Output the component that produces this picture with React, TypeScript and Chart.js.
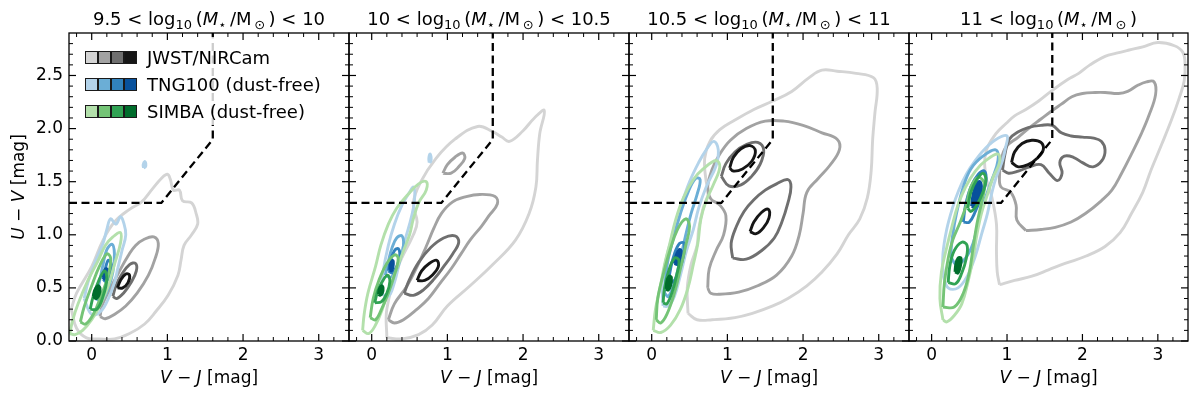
import React, { useEffect, useRef } from "react";
import { Chart, registerables } from "chart.js";

Chart.register(...registerables);

type Pt = [number, number];

// ---------- axes / layout ----------
const panelLeft = [69, 349, 629, 909];
const panelRight = [349, 629, 909, 1188];
const plotTop = 33;
const plotBottom = 341;

const xMin = -0.3;
const xMax = 3.4;
const yMin = 0;
const yMax = 2.9;
const xMajor = [0, 1, 2, 3];
const xMinor = [-0.2, 0.2, 0.4, 0.6, 0.8, 1.2, 1.4, 1.6, 1.8, 2.2, 2.4, 2.6, 2.8, 3.2];
const yMajor = [0, 0.5, 1.0, 1.5, 2.0, 2.5];
const yMinor = [0.1, 0.2, 0.3, 0.4, 0.6, 0.7, 0.8, 0.9, 1.1, 1.2, 1.3, 1.4, 1.6, 1.7, 1.8, 1.9, 2.1, 2.2, 2.3, 2.4, 2.6, 2.7, 2.8];

const titleLow = ["9.5", "10", "10.5", "11"];
const titleHigh = ["10", "10.5", "11", ""];

// UVJ quiescent selection boundary
const uvjX = [-0.3, 0.92, 1.6, 1.6];
const uvjY = [1.3, 1.3, 1.898, 2.9];

const greyColors = ["#d4d4d4", "#a2a2a2", "#6f6f6f", "#161616"];
const blueColors = ["#b3d3ea", "#6baed6", "#3182bd", "#08519c"];
const greenColors = ["#b3e0ab", "#74c476", "#31a354", "#006d2c"];
const legendLabels = ["JWST/NIRCam", "TNG100 (dust-free)", "SIMBA (dust-free)"];

// ---------- Panel 1: 9.5 < log M < 10 ----------
const p1Jwst: Pt[][] = [
  [[-0.27, 0.3], [-0.2, 0.45], [0.0, 0.7], [0.15, 0.95], [0.3, 1.12], [0.5, 1.24], [0.66, 1.31], [0.8, 1.43], [0.92, 1.53], [1.0, 1.57], [1.04, 1.52], [1.08, 1.42], [1.16, 1.42], [1.2, 1.32], [1.32, 1.3], [1.38, 1.2], [1.4, 1.1], [1.32, 1.0], [1.22, 0.9], [1.18, 0.76], [1.14, 0.62], [1.01, 0.43], [0.85, 0.28], [0.7, 0.16], [0.5, 0.07], [0.3, 0.02], [0.1, 0.02], [-0.07, 0.03], [-0.2, 0.12]],
  [[0.11, 0.23], [0.14, 0.34], [0.25, 0.5], [0.36, 0.65], [0.48, 0.8], [0.58, 0.9], [0.7, 0.96], [0.82, 0.98], [0.88, 0.92], [0.84, 0.78], [0.75, 0.62], [0.6, 0.45], [0.45, 0.33], [0.3, 0.25], [0.18, 0.21]],
  [[0.28, 0.42], [0.32, 0.52], [0.4, 0.63], [0.5, 0.72], [0.58, 0.73], [0.59, 0.66], [0.52, 0.55], [0.42, 0.45], [0.33, 0.4]],
  [[0.34, 0.5], [0.38, 0.57], [0.45, 0.63], [0.5, 0.62], [0.48, 0.55], [0.41, 0.5]],
];
const p1JwstLv = [0, 1, 2, 3];
const p1Tng: Pt[][] = [
  [[-0.1, 0.4], [-0.05, 0.55], [0.05, 0.75], [0.15, 0.92], [0.2, 1.05], [0.25, 1.15], [0.32, 1.1], [0.38, 1.17], [0.42, 1.12], [0.45, 1.0], [0.4, 0.85], [0.35, 0.7], [0.3, 0.55], [0.22, 0.4], [0.12, 0.28], [0.0, 0.25]],
  [[0.05, 0.4], [0.1, 0.55], [0.15, 0.72], [0.2, 0.86], [0.27, 0.91], [0.3, 0.82], [0.28, 0.65], [0.22, 0.5], [0.13, 0.38]],
  [[0.15, 0.58], [0.18, 0.68], [0.22, 0.76], [0.26, 0.72], [0.24, 0.62], [0.19, 0.56]],
  [[0.15, 0.6], [0.16, 0.65], [0.19, 0.68], [0.22, 0.66], [0.21, 0.61], [0.18, 0.58]],
];
const p1TngLv = [0, 1, 2, 3];
const p1TngSpots: Pt[][] = [
  [[0.685, 1.63], [0.68, 1.66], [0.7, 1.69], [0.715, 1.67], [0.71, 1.64]],
];
const p1Simba: Pt[][] = [
  [[-0.29, 0.07], [-0.25, 0.2], [-0.18, 0.35], [-0.05, 0.57], [0.08, 0.75], [0.18, 0.9], [0.28, 0.98], [0.38, 1.02], [0.38, 0.92], [0.3, 0.72], [0.22, 0.52], [0.12, 0.35], [0.0, 0.2], [-0.12, 0.1], [-0.22, 0.06]],
  [[-0.15, 0.18], [-0.1, 0.32], [0.0, 0.52], [0.1, 0.7], [0.2, 0.82], [0.25, 0.78], [0.22, 0.62], [0.12, 0.42], [0.02, 0.25], [-0.08, 0.16]],
  [[-0.02, 0.3], [0.02, 0.42], [0.1, 0.58], [0.17, 0.66], [0.2, 0.58], [0.15, 0.42], [0.07, 0.3]],
  [[0.02, 0.42], [0.04, 0.48], [0.08, 0.52], [0.11, 0.5], [0.1, 0.44], [0.06, 0.4]],
];
const p1SimbaLv = [0, 1, 2, 3];

// ---------- Panel 2: 10 < log M < 10.5 ----------
const p2Jwst: Pt[][] = [
  [[0.2, 0.03], [0.2, 0.3], [0.35, 0.7], [0.55, 1.0], [0.6, 1.12], [0.55, 1.3], [0.65, 1.5], [0.85, 1.72], [1.1, 1.9], [1.4, 2.02], [1.6, 1.97], [1.72, 1.92], [1.82, 1.88], [2.0, 1.98], [2.15, 2.1], [2.28, 2.17], [2.22, 1.95], [2.19, 1.7], [2.17, 1.45], [2.08, 1.2], [1.9, 0.95], [1.6, 0.72], [1.3, 0.52], [1.0, 0.33], [0.8, 0.15], [0.62, 0.06], [0.4, 0.02]],
  [[0.94, 1.58], [1.0, 1.66], [1.1, 1.73], [1.2, 1.77], [1.23, 1.72], [1.15, 1.64], [1.05, 1.58]],
  [[0.22, 0.2], [0.3, 0.35], [0.46, 0.51], [0.6, 0.7], [0.72, 0.89], [0.82, 1.06], [0.92, 1.2], [1.07, 1.31], [1.25, 1.36], [1.43, 1.38], [1.63, 1.36], [1.66, 1.29], [1.55, 1.18], [1.45, 1.08], [1.3, 0.95], [1.18, 0.82], [1.05, 0.68], [0.9, 0.54], [0.75, 0.4], [0.6, 0.3], [0.42, 0.2], [0.3, 0.17]],
  [[0.43, 0.45], [0.5, 0.58], [0.62, 0.74], [0.78, 0.88], [0.95, 0.97], [1.1, 0.99], [1.15, 0.93], [1.07, 0.82], [0.95, 0.7], [0.82, 0.58], [0.68, 0.48], [0.55, 0.43]],
  [[0.6, 0.57], [0.66, 0.66], [0.76, 0.73], [0.86, 0.76], [0.88, 0.7], [0.8, 0.62], [0.7, 0.57]],
];
const p2JwstLv = [0, 1, 1, 2, 3];
const p2Tng: Pt[][] = [
  [[0.12, 0.45], [0.15, 0.65], [0.22, 0.9], [0.3, 1.1], [0.4, 1.28], [0.5, 1.4], [0.55, 1.45], [0.57, 1.38], [0.55, 1.25], [0.5, 1.1], [0.42, 0.9], [0.36, 0.72], [0.3, 0.55], [0.22, 0.42]],
  [[0.18, 0.62], [0.22, 0.75], [0.27, 0.88], [0.33, 0.97], [0.4, 0.99], [0.42, 0.9], [0.38, 0.78], [0.32, 0.66], [0.25, 0.6]],
  [[0.22, 0.66], [0.25, 0.76], [0.3, 0.85], [0.35, 0.87], [0.37, 0.8], [0.33, 0.7], [0.27, 0.64]],
  [[0.24, 0.67], [0.245, 0.72], [0.265, 0.76], [0.285, 0.75], [0.28, 0.69], [0.26, 0.66]],
];
const p2TngLv = [0, 1, 2, 3];
const p2TngSpots: Pt[][] = [
  [[0.76, 1.68], [0.755, 1.72], [0.77, 1.76], [0.785, 1.73], [0.78, 1.69]],
];
const p2Simba: Pt[][] = [
  [[-0.12, 0.1], [-0.1, 0.25], [-0.05, 0.45], [0.05, 0.7], [0.12, 0.9], [0.22, 1.1], [0.33, 1.25], [0.48, 1.38], [0.62, 1.48], [0.72, 1.5], [0.72, 1.42], [0.62, 1.3], [0.55, 1.15], [0.5, 1.0], [0.42, 0.85], [0.33, 0.68], [0.22, 0.48], [0.14, 0.3], [0.05, 0.15], [-0.04, 0.07]],
  [[-0.02, 0.22], [0.02, 0.4], [0.1, 0.58], [0.2, 0.73], [0.3, 0.81], [0.35, 0.78], [0.3, 0.62], [0.22, 0.45], [0.13, 0.3], [0.05, 0.2]],
  [[0.04, 0.36], [0.08, 0.47], [0.14, 0.56], [0.21, 0.62], [0.24, 0.56], [0.2, 0.45], [0.13, 0.37]],
  [[0.09, 0.44], [0.1, 0.49], [0.13, 0.52], [0.15, 0.5], [0.14, 0.45], [0.11, 0.43]],
];
const p2SimbaLv = [0, 1, 2, 3];

// ---------- Panel 3: 10.5 < log M < 11 ----------
const p3Jwst: Pt[][] = [
  [[0.48, 0.26], [0.6, 0.2], [0.8, 0.2], [1.1, 0.22], [1.33, 0.26], [1.6, 0.33], [1.8, 0.4], [2.05, 0.52], [2.25, 0.65], [2.45, 0.82], [2.6, 1.0], [2.75, 1.15], [2.85, 1.35], [2.9, 1.6], [2.92, 1.9], [2.95, 2.15], [2.98, 2.38], [2.93, 2.48], [2.7, 2.52], [2.45, 2.54], [2.25, 2.55], [2.08, 2.48], [1.85, 2.35], [1.6, 2.26], [1.35, 2.18], [1.1, 2.08], [0.9, 1.99], [0.77, 1.88], [0.7, 1.72], [0.72, 1.5], [0.75, 1.4], [0.68, 1.25], [0.62, 1.05], [0.6, 0.9], [0.52, 0.72], [0.47, 0.5]],
  [[0.74, 0.5], [0.76, 0.68], [0.85, 0.85], [0.95, 1.0], [0.98, 1.18], [0.9, 1.28], [0.78, 1.34], [0.74, 1.45], [0.8, 1.62], [0.9, 1.76], [1.04, 1.89], [1.25, 2.0], [1.5, 2.07], [1.75, 2.07], [2.0, 2.03], [2.25, 1.96], [2.45, 1.9], [2.48, 1.8], [2.35, 1.65], [2.2, 1.53], [2.05, 1.4], [2.0, 1.2], [1.95, 1.0], [1.85, 0.8], [1.65, 0.62], [1.4, 0.52], [1.15, 0.46], [0.9, 0.44], [0.78, 0.45]],
  [[0.92, 1.55], [0.98, 1.67], [1.1, 1.78], [1.25, 1.85], [1.4, 1.87], [1.48, 1.8], [1.43, 1.66], [1.32, 1.55], [1.18, 1.47], [1.02, 1.46]],
  [[1.07, 0.78], [1.05, 0.92], [1.12, 1.08], [1.22, 1.22], [1.35, 1.33], [1.5, 1.42], [1.65, 1.48], [1.8, 1.52], [1.84, 1.45], [1.8, 1.3], [1.72, 1.12], [1.62, 0.97], [1.45, 0.85], [1.25, 0.77]],
  [[1.03, 1.63], [1.08, 1.73], [1.18, 1.81], [1.3, 1.84], [1.37, 1.79], [1.32, 1.69], [1.2, 1.62], [1.08, 1.6]],
  [[1.3, 1.03], [1.35, 1.12], [1.45, 1.21], [1.54, 1.24], [1.55, 1.16], [1.48, 1.07], [1.38, 1.01]],
];
const p3JwstLv = [0, 1, 2, 2, 3, 3];
const p3Tng: Pt[][] = [
  [[0.15, 0.33], [0.14, 0.55], [0.2, 0.8], [0.3, 1.05], [0.4, 1.3], [0.5, 1.5], [0.62, 1.68], [0.72, 1.8], [0.82, 1.88], [0.88, 1.8], [0.85, 1.65], [0.72, 1.45], [0.62, 1.25], [0.55, 1.05], [0.46, 0.85], [0.38, 0.62], [0.3, 0.42], [0.22, 0.33]],
  [[0.17, 0.45], [0.2, 0.7], [0.28, 0.95], [0.38, 1.2], [0.48, 1.4], [0.58, 1.53], [0.64, 1.52], [0.6, 1.38], [0.52, 1.2], [0.45, 1.0], [0.38, 0.78], [0.3, 0.55], [0.22, 0.42]],
  [[0.22, 0.55], [0.25, 0.68], [0.3, 0.82], [0.37, 0.92], [0.43, 0.92], [0.42, 0.8], [0.36, 0.66], [0.29, 0.56]],
  [[0.3, 0.73], [0.32, 0.8], [0.36, 0.86], [0.39, 0.85], [0.38, 0.77], [0.34, 0.72]],
];
const p3TngLv = [0, 1, 2, 3];
const p3Simba: Pt[][] = [
  [[0.02, 0.1], [0.05, 0.3], [0.11, 0.5], [0.17, 0.72], [0.24, 0.92], [0.32, 1.15], [0.42, 1.35], [0.55, 1.52], [0.68, 1.62], [0.85, 1.7], [0.9, 1.64], [0.82, 1.48], [0.72, 1.32], [0.65, 1.15], [0.61, 0.92], [0.55, 0.72], [0.48, 0.5], [0.38, 0.3], [0.25, 0.15], [0.12, 0.08]],
  [[0.06, 0.2], [0.08, 0.4], [0.15, 0.62], [0.24, 0.85], [0.34, 1.05], [0.45, 1.15], [0.5, 1.08], [0.45, 0.9], [0.38, 0.68], [0.3, 0.45], [0.2, 0.25], [0.12, 0.17]],
  [[0.15, 0.36], [0.17, 0.5], [0.22, 0.65], [0.3, 0.78], [0.36, 0.76], [0.33, 0.62], [0.27, 0.46], [0.2, 0.35]],
  [[0.19, 0.49], [0.2, 0.56], [0.23, 0.61], [0.26, 0.6], [0.25, 0.52], [0.22, 0.48]],
];
const p3SimbaLv = [0, 1, 2, 3];

// ---------- Panel 4: 11 < log M ----------
const p4Jwst: Pt[][] = [
  [[0.9, 0.53], [1.1, 0.57], [1.33, 0.61], [1.55, 0.67], [1.77, 0.73], [2.05, 0.8], [2.3, 0.89], [2.5, 1.02], [2.65, 1.2], [2.8, 1.4], [2.91, 1.61], [3.05, 1.85], [3.18, 2.08], [3.28, 2.28], [3.35, 2.45], [3.36, 2.62], [3.33, 2.72], [3.22, 2.78], [3.0, 2.81], [2.8, 2.77], [2.62, 2.74], [2.45, 2.71], [2.3, 2.68], [2.1, 2.6], [1.95, 2.52], [1.8, 2.46], [1.6, 2.36], [1.42, 2.26], [1.25, 2.18], [1.1, 2.12], [0.99, 2.05], [0.85, 1.95], [0.72, 1.78], [0.72, 1.55], [0.8, 1.35], [0.86, 1.1], [0.86, 0.85], [0.87, 0.65]],
  [[1.25, 1.04], [1.45, 1.05], [1.64, 1.07], [1.85, 1.12], [2.04, 1.2], [2.25, 1.32], [2.39, 1.42], [2.52, 1.58], [2.65, 1.76], [2.78, 1.95], [2.88, 2.12], [2.97, 2.32], [2.95, 2.44], [2.85, 2.44], [2.74, 2.41], [2.6, 2.35], [2.48, 2.33], [2.3, 2.34], [2.17, 2.34], [2.0, 2.33], [1.86, 2.3], [1.72, 2.23], [1.6, 2.17], [1.45, 2.09], [1.3, 2.01], [1.15, 1.92], [0.99, 1.83], [0.92, 1.7], [0.9, 1.55], [0.92, 1.45], [1.05, 1.4], [1.12, 1.28], [1.13, 1.14]],
  [[0.94, 1.61], [0.97, 1.75], [1.03, 1.9], [1.15, 1.97], [1.28, 2.01], [1.45, 2.03], [1.6, 2.03], [1.72, 1.96], [1.85, 1.93], [2.0, 1.92], [2.15, 1.91], [2.25, 1.88], [2.3, 1.8], [2.26, 1.7], [2.14, 1.64], [2.0, 1.68], [1.88, 1.73], [1.76, 1.74], [1.7, 1.68], [1.73, 1.58], [1.67, 1.51], [1.56, 1.58], [1.45, 1.66], [1.3, 1.64], [1.15, 1.6], [1.02, 1.58]],
  [[1.06, 1.68], [1.1, 1.78], [1.2, 1.86], [1.33, 1.89], [1.45, 1.87], [1.48, 1.8], [1.4, 1.72], [1.28, 1.66], [1.15, 1.64]],
];
const p4JwstLv = [0, 1, 2, 3];
const p4Tng: Pt[][] = [
  [[0.15, 0.62], [0.15, 0.82], [0.2, 1.05], [0.28, 1.26], [0.36, 1.42], [0.46, 1.57], [0.58, 1.7], [0.72, 1.82], [0.88, 1.91], [1.0, 1.93], [0.98, 1.82], [0.94, 1.7], [0.86, 1.55], [0.8, 1.4], [0.74, 1.2], [0.66, 1.0], [0.58, 0.8], [0.48, 0.62], [0.35, 0.5], [0.22, 0.5]],
  [[0.25, 0.8], [0.28, 1.0], [0.33, 1.2], [0.42, 1.45], [0.52, 1.62], [0.68, 1.74], [0.85, 1.8], [0.88, 1.7], [0.8, 1.52], [0.7, 1.32], [0.62, 1.12], [0.55, 0.92], [0.45, 0.78], [0.33, 0.72]],
  [[0.42, 1.12], [0.45, 1.28], [0.52, 1.45], [0.62, 1.57], [0.7, 1.6], [0.72, 1.5], [0.66, 1.36], [0.58, 1.22], [0.5, 1.12]],
  [[0.53, 1.27], [0.55, 1.38], [0.59, 1.47], [0.64, 1.5], [0.66, 1.43], [0.62, 1.32], [0.57, 1.26]],
];
const p4TngLv = [0, 1, 2, 3];
const p4Simba: Pt[][] = [
  [[0.15, 0.2], [0.11, 0.4], [0.13, 0.65], [0.2, 0.88], [0.27, 1.08], [0.35, 1.28], [0.45, 1.45], [0.58, 1.6], [0.72, 1.7], [0.88, 1.76], [0.9, 1.68], [0.82, 1.55], [0.74, 1.38], [0.66, 1.2], [0.6, 1.0], [0.55, 0.78], [0.48, 0.55], [0.4, 0.35], [0.3, 0.24], [0.2, 0.18]],
  [[0.15, 0.32], [0.17, 0.55], [0.22, 0.78], [0.28, 0.95], [0.38, 1.12], [0.46, 1.28], [0.52, 1.45], [0.62, 1.54], [0.7, 1.48], [0.66, 1.3], [0.6, 1.1], [0.55, 0.88], [0.5, 0.65], [0.42, 0.45], [0.3, 0.32]],
  [[0.22, 0.55], [0.24, 0.7], [0.3, 0.85], [0.4, 0.93], [0.47, 0.9], [0.46, 0.78], [0.4, 0.64], [0.32, 0.54]],
  [[0.48, 1.25], [0.52, 1.4], [0.6, 1.52], [0.68, 1.58], [0.72, 1.52], [0.68, 1.4], [0.6, 1.28], [0.52, 1.22]],
  [[0.31, 0.65], [0.32, 0.72], [0.35, 0.78], [0.39, 0.78], [0.38, 0.7], [0.35, 0.64]],
];
const p4SimbaLv = [0, 1, 2, 2, 3];

const panelData = [
  { jwst: p1Jwst, jwstLv: p1JwstLv, tng: p1Tng, tngLv: p1TngLv, spots: p1TngSpots, simba: p1Simba, simbaLv: p1SimbaLv },
  { jwst: p2Jwst, jwstLv: p2JwstLv, tng: p2Tng, tngLv: p2TngLv, spots: p2TngSpots, simba: p2Simba, simbaLv: p2SimbaLv },
  { jwst: p3Jwst, jwstLv: p3JwstLv, tng: p3Tng, tngLv: p3TngLv, spots: [] as Pt[][], simba: p3Simba, simbaLv: p3SimbaLv },
  { jwst: p4Jwst, jwstLv: p4JwstLv, tng: p4Tng, tngLv: p4TngLv, spots: [] as Pt[][], simba: p4Simba, simbaLv: p4SimbaLv },
];

// ---------- helpers ----------
const FONT = '"DejaVu Sans", "Liberation Sans", sans-serif';
type Seg = [string, "n" | "i" | "s"];

function ring(poly: Pt[]) {
  const pts = poly.map(([x, y]) => ({ x, y }));
  pts.push({ x: poly[0][0], y: poly[0][1] });
  return pts;
}

function drawRich(ctx: CanvasRenderingContext2D, segs: Seg[], cx: number, baseline: number, size: number) {
  const fontFor = (k: string) =>
    k === "i" ? `italic ${size}px ${FONT}` : k === "s" ? `${Math.round(size * 0.7)}px ${FONT}` : `${size}px ${FONT}`;
  const widths = segs.map((s) => {
    ctx.font = fontFor(s[1]);
    return ctx.measureText(s[0]).width;
  });
  const total = widths.reduce((a, b) => a + b, 0);
  let x = cx - total / 2;
  ctx.textAlign = "left";
  ctx.textBaseline = "alphabetic";
  ctx.fillStyle = "#000";
  segs.forEach((s, i) => {
    ctx.font = fontFor(s[1]);
    ctx.fillText(s[0], x, baseline + (s[1] === "s" ? size * 0.22 : 0));
    x += widths[i];
  });
}

function titleSegs(i: number): Seg[] {
  const segs: Seg[] = [
    [`${titleLow[i]} < log`, "n"],
    ["10", "s"],
    ["\u2009(", "n"],
    ["M", "i"],
    ["\u22c6", "s"],
    ["\u2009/M", "n"],
    ["\u2009\u2299", "s"],
    ["\u2009)", "n"],
  ];
  if (titleHigh[i]) segs.push([` < ${titleHigh[i]}`, "n"]);
  return segs;
}

function buildDatasets(idx: number) {
  const d = panelData[idx];
  const list: any[] = [];
  const add = (polys: Pt[][], lv: number[], colors: string[], mode: "line" | "core" | "spot") => {
    polys.forEach((poly, k) => {
      const level = lv[k] ?? 0;
      const filled = mode === "spot" || (mode === "core" && level === 3);
      list.push({
        data: ring(poly),
        showLine: true,
        borderColor: colors[level],
        backgroundColor: colors[level],
        borderWidth: 2.9,
        pointRadius: 0,
        tension: 0.4,
        fill: filled ? "shape" : false,
      });
    });
  };
  add(d.jwst, d.jwstLv, greyColors, "line");
  add(d.tng, d.tngLv, blueColors, "core");
  add(d.spots, d.spots.map(() => 0), blueColors, "spot");
  add(d.simba, d.simbaLv, greenColors, "core");
  const N = list.length;
  list.forEach((ds, k) => (ds.order = N - k + 1));
  list.push({
    data: uvjX.map((x, i) => ({ x, y: uvjY[i] })),
    showLine: true,
    borderColor: "#000",
    borderWidth: 2.3,
    borderDash: [8, 4.5],
    pointRadius: 0,
    tension: 0,
    fill: false,
    order: 0,
  });
  return list;
}

function makeDecor(idx: number) {
  return {
    id: "decor" + idx,
    afterDatasetsDraw(chart: any) {
      if (idx !== 0) return;
      const ctx: CanvasRenderingContext2D = chart.ctx;
      ctx.save();
      ctx.fillStyle = "rgba(255,255,255,0.8)";
      ctx.beginPath();
      (ctx as any).roundRect ? (ctx as any).roundRect(75, 37, 258, 88, 3) : ctx.rect(75, 37, 258, 88);
      ctx.fill();
      const rows = [greyColors, blueColors, greenColors];
      const baselines = [64, 91, 118];
      rows.forEach((cols, r) => {
        const top = baselines[r] - 13;
        cols.forEach((c, j) => {
          const x = 85 + j * 13;
          ctx.fillStyle = c;
          ctx.fillRect(x, top, 12.5, 12.5);
          ctx.strokeStyle = "#1a1a1a";
          ctx.lineWidth = 1;
          ctx.strokeRect(x + 0.5, top + 0.5, 12, 12);
        });
        ctx.fillStyle = "#000";
        ctx.font = `18px ${FONT}`;
        ctx.textAlign = "left";
        ctx.textBaseline = "alphabetic";
        ctx.fillText(legendLabels[r], 147, baselines[r]);
      });
      ctx.restore();
    },
    afterDraw(chart: any) {
      const ctx: CanvasRenderingContext2D = chart.ctx;
      const { left, right, top, bottom } = chart.chartArea;
      const xs = chart.scales.x;
      const ys = chart.scales.y;
      ctx.save();
      ctx.strokeStyle = "#000";
      const seg = (x1: number, y1: number, x2: number, y2: number) => {
        ctx.beginPath();
        ctx.moveTo(x1, y1);
        ctx.lineTo(x2, y2);
        ctx.stroke();
      };
      const tickX = (v: number, len: number) => {
        const p = xs.getPixelForValue(v);
        seg(p, bottom, p, bottom - len);
        seg(p, top, p, top + len);
      };
      const tickY = (v: number, len: number) => {
        const p = ys.getPixelForValue(v);
        seg(left, p, left + len, p);
        seg(right, p, right - len, p);
      };
      ctx.lineWidth = 1.2;
      xMajor.forEach((v) => tickX(v, 7));
      yMajor.forEach((v) => tickY(v, 7));
      ctx.lineWidth = 1;
      xMinor.forEach((v) => tickX(v, 4));
      yMinor.forEach((v) => tickY(v, 4));
      ctx.lineWidth = 1.3;
      ctx.strokeRect(left, top, right - left, bottom - top);

      const cx = (left + right) / 2;
      drawRich(ctx, titleSegs(idx), cx, 25, 18);
      drawRich(ctx, [["V", "i"], [" \u2212 ", "n"], ["J", "i"], [" [mag]", "n"]], cx, 383, 17);
      if (idx === 0) {
        ctx.save();
        ctx.translate(23.5, (top + bottom) / 2);
        ctx.rotate(-Math.PI / 2);
        drawRich(ctx, [["U", "i"], [" \u2212 ", "n"], ["V", "i"], [" [mag]", "n"]], 0, 0, 17);
        ctx.restore();
      }
      ctx.restore();
    },
  };
}

function Panel({ idx }: { idx: number }) {
  const ref = useRef<HTMLCanvasElement | null>(null);
  useEffect(() => {
    if (!ref.current) return;
    const chart = new Chart(ref.current, {
      type: "scatter",
      data: { datasets: buildDatasets(idx) },
      options: {
        responsive: false,
        devicePixelRatio: 1,
        animation: false,
        events: [],
        layout: {
          padding: {
            left: panelLeft[idx] - 40,
            right: 1200 - panelRight[idx],
            top: plotTop,
            bottom: 399 - plotBottom - 30,
          },
        },
        plugins: { legend: { display: false }, tooltip: { enabled: false }, title: { display: false } },
        scales: {
          x: {
            type: "linear",
            min: xMin,
            max: xMax,
            grid: { display: false, drawTicks: false },
            border: { display: false },
            afterBuildTicks: (s: any) => {
              s.ticks = xMajor.map((v) => ({ value: v }));
            },
            afterFit: (s: any) => {
              s.height = 30;
            },
            ticks: {
              color: "#000",
              font: { family: FONT, size: 17 },
              padding: 4,
              maxRotation: 0,
              autoSkip: false,
              callback: (v: any) => String(v),
            },
          },
          y: {
            type: "linear",
            min: yMin,
            max: yMax,
            grid: { display: false, drawTicks: false },
            border: { display: false },
            afterBuildTicks: (s: any) => {
              s.ticks = yMajor.map((v) => ({ value: v }));
            },
            afterFit: (s: any) => {
              s.width = 40;
            },
            ticks: {
              display: idx === 0,
              color: "#000",
              font: { family: FONT, size: 17 },
              padding: 6,
              autoSkip: false,
              callback: (v: any) => Number(v).toFixed(1),
            },
          },
        },
      } as any,
      plugins: [makeDecor(idx)],
    });
    return () => chart.destroy();
  }, [idx]);
  return (
    <canvas
      ref={ref}
      width={1200}
      height={399}
      style={{ position: "absolute", left: 0, top: 0, width: 1200, height: 399 }}
    />
  );
}

export default function App() {
  return (
    <div style={{ position: "absolute", left: 0, top: 0, width: 1200, height: 399, background: "#fff", overflow: "hidden" }}>
      {[0, 1, 2, 3].map((i) => (
        <Panel key={i} idx={i} />
      ))}
    </div>
  );
}
